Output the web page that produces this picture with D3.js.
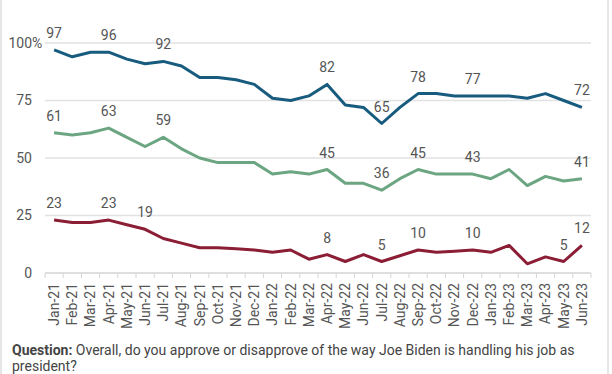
<!DOCTYPE html>
<html>
<head>
<meta charset="utf-8">
<script src="https://cdn.jsdelivr.net/npm/d3@7"></script>
<style>
  body { margin: 0; background: #fff; }
  svg { display: block; font-family: Roboto, "Noto Sans", sans-serif; }
  .grid line { stroke: #e2e2e2; stroke-width: 1.5; }
  .y-label { fill: #555; font-size: 14px; }
  .x-axis text { fill: #555; font-size: 14px; }
  .x-axis line { stroke: #d4d4d4; }
  .point-label { fill: #555; font-size: 14px; text-anchor: middle; }
  .note { fill: #444; font-size: 14px; }
</style>
</head>
<body>
<svg id="chart" width="612" height="374"></svg>
<script>
var months = ['Jan-21','Feb-21','Mar-21','Apr-21','May-21','Jun-21','Jul-21','Aug-21','Sep-21','Oct-21','Nov-21','Dec-21',
  'Jan-22','Feb-22','Mar-22','Apr-22','May-22','Jun-22','Jul-22','Aug-22','Sep-22','Oct-22','Nov-22','Dec-22',
  'Jan-23','Feb-23','Mar-23','Apr-23','May-23','Jun-23'];

var blueValues = [97,94,96,96,93,91,92,90,85,85,84,82,76,75,77,82,73,72,65,72,78,78,77,77,77,77,76,78,75,72];
var greenValues = [61,60,61,63,59,55,59,54,50,48,48,48,43,44,43,45,39,39,36,41,45,43,43,43,41,45,38,42,40,41];
var redValues = [23,22,22,23,21,19,15,13,11,11,10.5,10,9,10,6,8,5,8,5,7.5,10,9,9.5,10,9,12,4,7,5,12];

var blueLabeled = ['Jan-21','Apr-21','Jul-21','Apr-22','Jul-22','Sep-22','Dec-22','Jun-23'];
var greenLabeled = ['Jan-21','Apr-21','Jul-21','Apr-22','Jul-22','Sep-22','Dec-22','Jun-23'];
var redLabeled = ['Jan-21','Apr-21','Jun-21','Apr-22','Jul-22','Sep-22','Dec-22','May-23','Jun-23'];

var yTicks = [0, 25, 50, 75, 100];

var series = [
  { name: 'blue', color: '#175b7e', values: blueValues, labeled: blueLabeled },
  { name: 'green', color: '#6ba581', values: greenValues, labeled: greenLabeled },
  { name: 'red', color: '#8b1d35', values: redValues, labeled: redLabeled }
];

(function() {
  var svg = d3.select('#chart');
  var plotLeft = 45, plotRight = 591, plotTop = 43, plotBottom = 273;

  var xScale = d3.scaleBand().domain(months).range([plotLeft, plotRight]);
  var yScale = d3.scaleLinear().domain([0, 100]).range([plotBottom, plotTop]);
  var xMid = function(m) { return xScale(m) + xScale.bandwidth() / 2; };

  // side rules of the card
  svg.append('line').attr('x1', 1).attr('x2', 1).attr('y1', 0).attr('y2', 374)
    .attr('stroke', '#e6e6e6').attr('stroke-width', 2);
  svg.append('line').attr('x1', 608).attr('x2', 608).attr('y1', 0).attr('y2', 374)
    .attr('stroke', '#e6e6e6').attr('stroke-width', 2);

  var grid = svg.append('g').attr('class', 'grid');
  grid.selectAll('line').data(yTicks.filter(function(t) { return t > 0; }))
    .enter().append('line')
    .attr('x1', plotLeft).attr('x2', plotRight)
    .attr('y1', function(d) { return yScale(d); })
    .attr('y2', function(d) { return yScale(d); });

  // numbers right-aligned, the % sign hangs past the edge
  var yLabels = svg.append('g');
  yLabels.selectAll('text').data(yTicks)
    .enter().append('text')
    .attr('class', 'y-label')
    .attr('x', 32)
    .attr('y', function(d) { return yScale(d); })
    .attr('dy', '0.35em')
    .attr('text-anchor', 'end')
    .text(function(d) { return d; });
  yLabels.append('text')
    .attr('class', 'y-label')
    .attr('x', 32)
    .attr('y', yScale(100))
    .attr('dy', '0.35em')
    .text('%');

  // x axis: ticks on band edges, labels rotated
  var xAxis = svg.append('g').attr('class', 'x-axis')
    .attr('transform', 'translate(0,' + plotBottom + ')');
  xAxis.append('line').attr('x1', plotLeft).attr('x2', plotRight).attr('y1', 0).attr('y2', 0)
    .attr('stroke-width', 1.5);
  xAxis.selectAll('line.tick').data(months.concat(['end']))
    .enter().append('line')
    .attr('class', 'tick')
    .attr('x1', function(d) { return d === 'end' ? plotRight : xScale(d); })
    .attr('x2', function(d) { return d === 'end' ? plotRight : xScale(d); })
    .attr('y1', 0).attr('y2', 5);
  xAxis.selectAll('text').data(months)
    .enter().append('text')
    .attr('transform', function(d) { return 'translate(' + xMid(d) + ',10) rotate(-90)'; })
    .attr('text-anchor', 'end')
    .attr('dy', '0.35em')
    .text(function(d) { return d; });

  var line = d3.line()
    .x(function(d, i) { return xMid(months[i]); })
    .y(function(d) { return yScale(d); });

  series.forEach(function(s) {
    svg.append('path')
      .datum(s.values)
      .attr('d', line)
      .attr('fill', 'none')
      .attr('stroke', s.color)
      .attr('stroke-width', 3)
      .attr('stroke-linejoin', 'round');

    svg.append('g').selectAll('text').data(s.labeled)
      .enter().append('text')
      .attr('class', 'point-label')
      .attr('x', function(m) { return xMid(m); })
      .attr('y', function(m) { return yScale(s.values[months.indexOf(m)]) - 12; })
      .text(function(m) { return s.values[months.indexOf(m)]; });
  });

  var note = svg.append('text').attr('class', 'note').attr('x', 12).attr('y', 355);
  note.append('tspan').attr('font-weight', 'bold').text('Question:');
  note.append('tspan').text(' Overall, do you approve or disapprove of the way Joe Biden is handling his job as');
  svg.append('text').attr('class', 'note').attr('x', 12).attr('y', 371).text('president?');
})();
</script>
</body>
</html>
